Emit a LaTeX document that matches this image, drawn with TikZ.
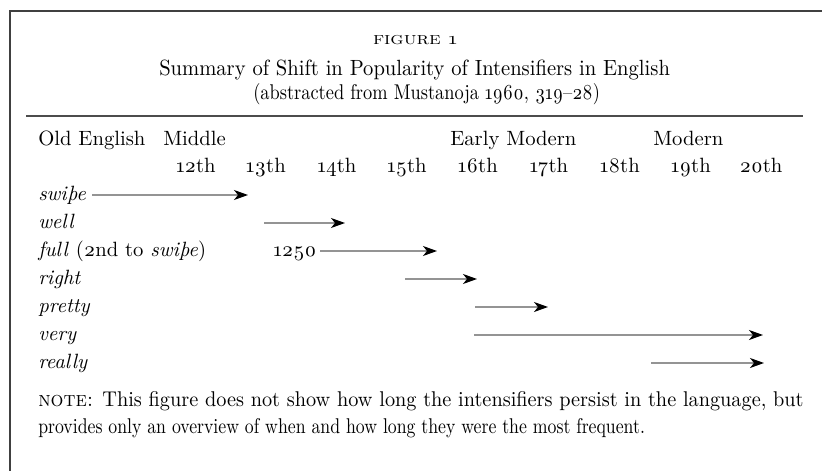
\documentclass[tikz,border=0pt]{standalone}
\usepackage{fontspec}
\usepackage{graphicx}
\usetikzlibrary{arrows.meta}
\setmainfont{lmroman10}[Extension=.otf, UprightFont=*-regular, ItalicFont=*-italic, BoldFont=*-bold, BoldItalicFont=*-bolditalic, SmallCapsFont=lmromancaps10-regular, Numbers=OldStyle]
\newcommand\bodyfont{\fontsize{15.5}{18}\selectfont}
\newcommand\fitw[2]{\resizebox{#1}{\height}{#2}}
\begin{document}
\begin{tikzpicture}[x=0.75pt,y=-0.75pt,
  lbl/.style={anchor=base west, inner sep=0pt, font=\bodyfont},
  cent/.style={anchor=base, inner sep=0pt, font=\bodyfont},
  arr/.style={draw=black!42, line width=1.1pt, -{Stealth[length=10.5pt,width=7.5pt,inset=3pt,color=black]}},
  frame/.style={draw=black!75, line width=1.5pt}]
\useasboundingbox (0,0) rectangle (822,471);
\fill[white] (0,0) rectangle (822,471);
% frame (cropped)
\draw[frame] (9.5,471) -- (9.5,10.5) -- (822,10.5);
% title
\node (fig) at (415,45) [anchor=base, inner sep=0pt] {\fitw{63pt}{\fontsize{13}{15}\selectfont\textsc{figure 1}}};
\node (title) at (159,75) [anchor=base west, inner sep=0pt] {\fitw{383pt}{\fontsize{16.5}{19}\selectfont Summary of Shift in Popularity of Intensifiers in English}};
\node (sub) at (253,99) [anchor=base west, inner sep=0pt] {\fitw{260pt}{\fontsize{16}{19}\selectfont (abstracted from Mustanoja 1960, 319--28)}};
% rule
\coordinate (r1) at (26,116);
\coordinate (r2) at (803,116);
\draw[draw=black!70, line width=1.5pt] (r1) -- (r2);
% period headers
\node[lbl] (oe) at (38,145) {Old English};
\node[lbl] (mid) at (163,145) {Middle};
\node[lbl] (em) at (450,145) {Early Modern};
\node[lbl] (mod) at (653,145) {Modern};
% centuries
\node[cent] (c12) at (196,172) {12th};
\node[cent] (c13) at (266,172) {13th};
\node[cent] (c14) at (337,172) {14th};
\node[cent] (c15) at (407,172) {15th};
\node[cent] (c16) at (478,172) {16th};
\node[cent] (c17) at (549,172) {17th};
\node[cent] (c18) at (620,172) {18th};
\node[cent] (c19) at (691,172) {19th};
\node[cent] (c20) at (761,172) {20th};
% rows
\node[lbl] (swipe) at (38,200) {\textit{swiþe}};
\node[lbl] (well) at (38,228) {\textit{well}};
\node[lbl] (full) at (38,256) {\textit{full} (2nd to \textit{swiþe})};
\node[lbl] (right) at (38,284) {\textit{right}};
\node[lbl] (pretty) at (38,312) {\textit{pretty}};
\node[lbl] (very) at (38,340) {\textit{very}};
\node[lbl] (really) at (38,368) {\textit{really}};
\node[cent] (y1250) at (295,256) {1250};
% arrows
\coordinate (s1) at (92,195);  \coordinate (s2) at (248,195);
\coordinate (w1) at (264,223); \coordinate (w2) at (345,223);
\coordinate (f1) at (320,251); \coordinate (f2) at (437,251);
\coordinate (g1) at (405,279); \coordinate (g2) at (477,279);
\coordinate (p1) at (475,307); \coordinate (p2) at (548,307);
\coordinate (v1) at (474,335); \coordinate (v2) at (763,335);
\coordinate (l1) at (651,363); \coordinate (l2) at (764,363);
\draw[arr] (s1) -- (s2);
\draw[arr] (w1) -- (w2);
\draw[arr] (f1) -- (f2);
\draw[arr] (g1) -- (g2);
\draw[arr] (p1) -- (p2);
\draw[arr] (v1) -- (v2);
\draw[arr] (l1) -- (l2);
% note
\node (note1) at (38,406) [anchor=base west, inner sep=0pt] {\fitw{574pt}{\fontsize{16}{19}\selectfont\textsc{note:} This figure does not show how long the intensifiers persist in the language, but}};
\node (note2) at (38,433) [anchor=base west, inner sep=0pt] {\fitw{455pt}{\fontsize{16}{19}\selectfont provides only an overview of when and how long they were the most frequent.}};
\end{tikzpicture}
\end{document}
